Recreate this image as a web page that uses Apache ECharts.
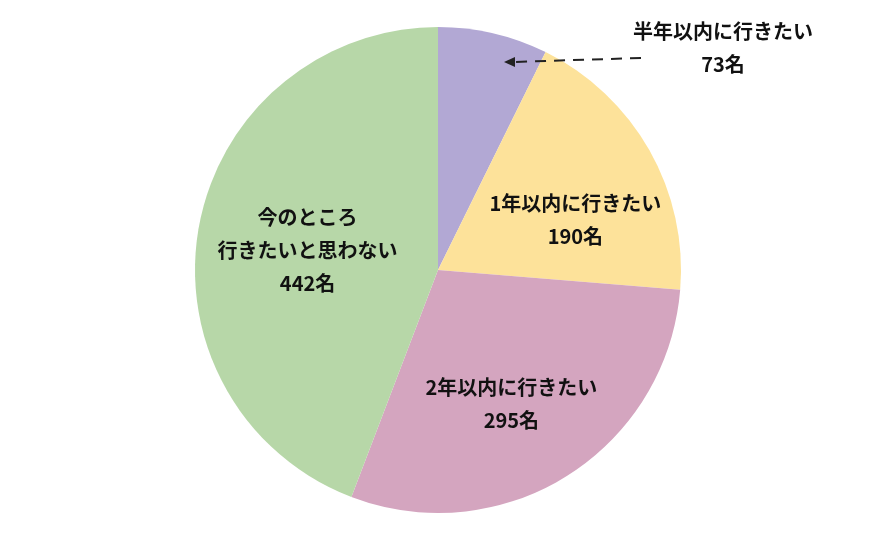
<!DOCTYPE html>
<html>
<head>
<meta charset="UTF-8">
<script src="https://cdn.jsdelivr.net/npm/echarts@6/dist/echarts.min.js"></script>
<style>
html,body{margin:0;padding:0;background:#fff;}
#pieDiv{width:875px;height:541px;}
</style>
</head>
<body>
<div id="pieDiv"></div>
<script>
// データ
var categories = ['半年以内に行きたい', '1年以内に行きたい', '2年以内に行きたい', '今のところ\n行きたいと思わない'];
var values = [73, 190, 295, 442];
var colorList = ['#b2a8d4', '#fde29a', '#d4a5bf', '#b7d7a8'];
// ラベルのずらし量
var labelOffsets = [[0, 0], [29, 11], [7, 29], [-8, 3]];

var seriesData = [];
for (var i = 0; i < values.length; i++) {
	seriesData.push({
		name: categories[i],
		value: values[i],
		itemStyle: {color: colorList[i]},
		label: {offset: labelOffsets[i]}
	});
}

var font = '"Noto Sans CJK JP", "Noto Sans", sans-serif';

var option = {
	animation: false,
	series: [{
		type: 'pie',
		center: [438, 270],
		radius: 243,
		startAngle: 90,
		clockwise: true,
		data: seriesData,
		itemStyle: {borderWidth: 0},
		label: {
			position: 'inside',
			formatter: '{b}\n{c}名',
			color: '#111',
			fontSize: 20,
			fontWeight: 'bold',
			fontFamily: font,
			lineHeight: 33,
			align: 'center'
		},
		labelLine: {show: false},
		labelLayout: function (params) {
			// 半年以内は外に出す
			if (params.dataIndex === 0) {
				return {x: 723, y: 48, align: 'center', verticalAlign: 'middle'};
			}
		}
	}],
	graphic: [
		{
			type: 'line',
			z: 100,
			shape: {x1: 641, y1: 58, x2: 513, y2: 62},
			style: {stroke: '#222', lineWidth: 2, lineDash: [11, 8]}
		},
		{
			type: 'polygon',
			z: 100,
			shape: {points: [[504, 62], [515, 57], [515, 67]]},
			style: {fill: '#222'}
		}
	]
};

var myChart = echarts.init(document.getElementById('pieDiv'));
myChart.setOption(option);
</script>
</body>
</html>
